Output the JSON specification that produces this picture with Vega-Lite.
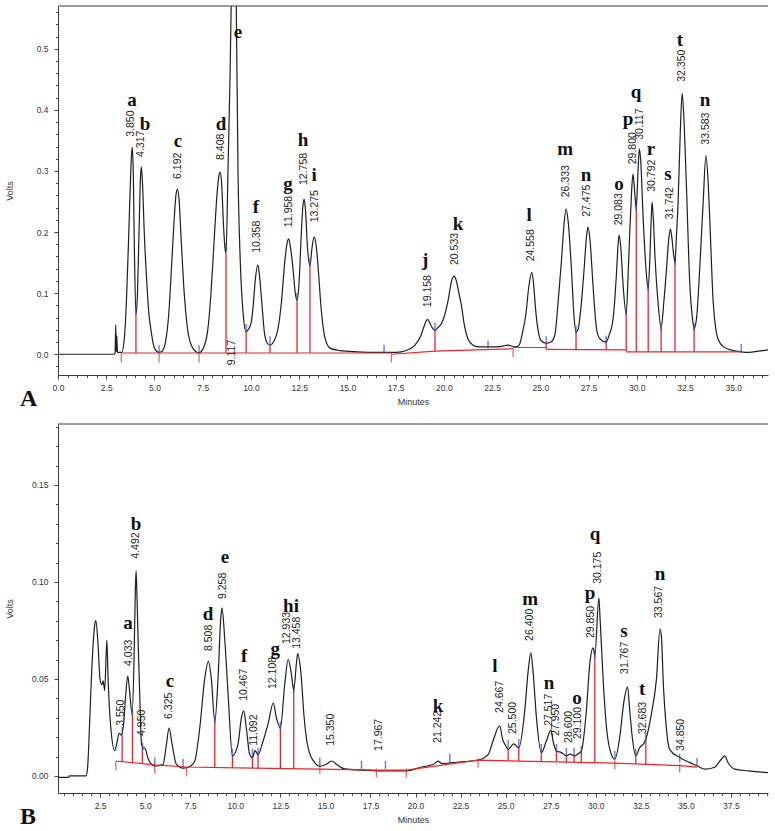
{
"$schema": "https://vega.github.io/schema/vega-lite/v6.json",
"background": "white",
"padding": {"left": 5, "top": 5, "right": 5, "bottom": 3},
"spacing": 12,
"config": {
  "view": {"stroke": null},
  "axis": {"grid": false, "labelFont": "Liberation Sans", "labelFontSize": 8.5, "labelColor": "#333", "titleFont": "Liberation Sans", "titleFontSize": 9, "titleFontWeight": "normal", "titleColor": "#333", "domainColor": "#3a3a3a", "tickColor": "#444", "tickWidth": 1, "tickSize": 4}
},
"datasets": {
  "curveA": [
    {"t":0,"v":0},{"t":2.9,"v":0},{"t":2.96,"v":0.002},{"t":2.99,"v":0.048},{"t":3.02,"v":0.004},{"t":3.05,"v":0.03},{"t":3.08,"v":0.003},{"t":3.3,"v":0.003},
    {"t":3.45,"v":0.03},{"t":3.55,"v":0.09},{"t":3.65,"v":0.18},{"t":3.73,"v":0.26},{"t":3.8,"v":0.32},{"t":3.85,"v":0.339},{"t":3.9,"v":0.3},{"t":3.96,"v":0.17},{"t":4.04,"v":0.066},
    {"t":4.12,"v":0.1},{"t":4.2,"v":0.2},{"t":4.27,"v":0.285},{"t":4.317,"v":0.307},{"t":4.38,"v":0.28},{"t":4.47,"v":0.2},{"t":4.58,"v":0.13},{"t":4.7,"v":0.07},{"t":4.84,"v":0.035},{"t":5.0,"v":0.01},{"t":5.24,"v":0.003},
    {"t":5.4,"v":0.005},{"t":5.6,"v":0.025},{"t":5.75,"v":0.07},{"t":5.88,"v":0.14},{"t":6.02,"v":0.22},{"t":6.12,"v":0.262},{"t":6.192,"v":0.27},{"t":6.27,"v":0.255},{"t":6.38,"v":0.19},{"t":6.52,"v":0.11},{"t":6.7,"v":0.045},{"t":6.95,"v":0.012},{"t":7.31,"v":0.002},
    {"t":7.6,"v":0.015},{"t":7.8,"v":0.05},{"t":7.95,"v":0.11},{"t":8.1,"v":0.19},{"t":8.25,"v":0.265},{"t":8.35,"v":0.294},{"t":8.408,"v":0.298},{"t":8.48,"v":0.28},{"t":8.58,"v":0.21},{"t":8.65,"v":0.175},{"t":8.71,"v":0.165},
    {"t":8.81,"v":0.3},{"t":8.92,"v":0.46},{"t":9.0,"v":0.62},{"t":9.117,"v":0.8},{"t":9.23,"v":0.6},{"t":9.33,"v":0.3},{"t":9.45,"v":0.15},{"t":9.6,"v":0.065},{"t":9.75,"v":0.036},
    {"t":9.85,"v":0.04},{"t":10.0,"v":0.05},{"t":10.12,"v":0.08},{"t":10.22,"v":0.12},{"t":10.358,"v":0.146},{"t":10.44,"v":0.13},{"t":10.55,"v":0.09},{"t":10.7,"v":0.035},{"t":10.85,"v":0.018},{"t":10.99,"v":0.015},
    {"t":11.2,"v":0.022},{"t":11.4,"v":0.041},{"t":11.58,"v":0.085},{"t":11.75,"v":0.15},{"t":11.88,"v":0.183},{"t":11.958,"v":0.189},{"t":12.05,"v":0.175},{"t":12.18,"v":0.14},{"t":12.3,"v":0.1},{"t":12.39,"v":0.088},
    {"t":12.5,"v":0.12},{"t":12.6,"v":0.19},{"t":12.7,"v":0.245},{"t":12.758,"v":0.254},{"t":12.83,"v":0.235},{"t":12.93,"v":0.175},{"t":13.06,"v":0.145},
    {"t":13.15,"v":0.17},{"t":13.275,"v":0.192},{"t":13.38,"v":0.178},{"t":13.5,"v":0.135},{"t":13.6,"v":0.09},{"t":13.72,"v":0.05},{"t":13.85,"v":0.025},{"t":14.1,"v":0.01},{"t":14.6,"v":0.006},{"t":15.5,"v":0.004},{"t":16.5,"v":0.003},{"t":17.3,"v":0.003},
    {"t":17.8,"v":0.004},{"t":18.2,"v":0.008},{"t":18.5,"v":0.015},{"t":18.8,"v":0.03},{"t":19.0,"v":0.048},{"t":19.158,"v":0.057},{"t":19.3,"v":0.049},{"t":19.45,"v":0.041},{"t":19.54,"v":0.039},
    {"t":19.7,"v":0.044},{"t":19.87,"v":0.05},{"t":20.05,"v":0.065},{"t":20.22,"v":0.088},{"t":20.4,"v":0.12},{"t":20.533,"v":0.128},{"t":20.65,"v":0.12},{"t":20.78,"v":0.1},{"t":20.91,"v":0.08},{"t":21.05,"v":0.05},{"t":21.25,"v":0.025},{"t":21.5,"v":0.015},{"t":21.8,"v":0.012},{"t":22.5,"v":0.012},{"t":23.0,"v":0.013},{"t":23.3,"v":0.015},{"t":23.7,"v":0.012},
    {"t":23.9,"v":0.015},{"t":24.1,"v":0.039},{"t":24.25,"v":0.065},{"t":24.4,"v":0.11},{"t":24.558,"v":0.134},{"t":24.65,"v":0.115},{"t":24.75,"v":0.075},{"t":24.88,"v":0.04},{"t":25.05,"v":0.022},{"t":25.3,"v":0.018},
    {"t":25.55,"v":0.02},{"t":25.75,"v":0.031},{"t":25.92,"v":0.085},{"t":26.09,"v":0.151},{"t":26.22,"v":0.21},{"t":26.333,"v":0.238},{"t":26.45,"v":0.215},{"t":26.61,"v":0.14},{"t":26.75,"v":0.06},{"t":26.85,"v":0.036},
    {"t":26.95,"v":0.04},{"t":27.13,"v":0.085},{"t":27.27,"v":0.14},{"t":27.4,"v":0.195},{"t":27.475,"v":0.208},{"t":27.58,"v":0.185},{"t":27.73,"v":0.113},{"t":27.88,"v":0.05},{"t":28.0,"v":0.03},{"t":28.2,"v":0.022},{"t":28.41,"v":0.02},
    {"t":28.55,"v":0.03},{"t":28.77,"v":0.058},{"t":28.94,"v":0.129},{"t":29.03,"v":0.18},{"t":29.083,"v":0.195},{"t":29.17,"v":0.175},{"t":29.29,"v":0.113},{"t":29.45,"v":0.066},
    {"t":29.55,"v":0.13},{"t":29.63,"v":0.195},{"t":29.72,"v":0.26},{"t":29.8,"v":0.295},{"t":29.88,"v":0.27},{"t":29.97,"v":0.238},
    {"t":30.05,"v":0.29},{"t":30.13,"v":0.336},{"t":30.2,"v":0.318},{"t":30.33,"v":0.222},{"t":30.5,"v":0.13},{"t":30.59,"v":0.107},
    {"t":30.68,"v":0.16},{"t":30.75,"v":0.225},{"t":30.792,"v":0.249},{"t":30.86,"v":0.22},{"t":30.95,"v":0.155},{"t":31.1,"v":0.085},{"t":31.26,"v":0.043},
    {"t":31.4,"v":0.085},{"t":31.54,"v":0.14},{"t":31.66,"v":0.19},{"t":31.742,"v":0.205},{"t":31.82,"v":0.19},{"t":31.9,"v":0.165},{"t":31.98,"v":0.15},
    {"t":32.05,"v":0.19},{"t":32.14,"v":0.249},{"t":32.25,"v":0.36},{"t":32.35,"v":0.427},{"t":32.45,"v":0.38},{"t":32.57,"v":0.277},{"t":32.75,"v":0.113},{"t":32.88,"v":0.06},{"t":32.97,"v":0.042},
    {"t":33.1,"v":0.06},{"t":33.26,"v":0.14},{"t":33.44,"v":0.249},{"t":33.583,"v":0.325},{"t":33.7,"v":0.28},{"t":33.78,"v":0.222},{"t":33.96,"v":0.085},{"t":34.1,"v":0.04},{"t":34.21,"v":0.025},{"t":34.5,"v":0.012},{"t":35.0,"v":0.006},{"t":35.4,"v":0.004},{"t":35.8,"v":0.003},{"t":36.3,"v":0.005},{"t":36.8,"v":0.007}
  ],
  "baseA": [
    {"seg":1,"t":3.28,"v":0.002},{"seg":1,"t":17.28,"v":0.002},
    {"seg":2,"t":17.28,"v":0.0},{"seg":2,"t":19.54,"v":0.005},{"seg":2,"t":23.59,"v":0.009},
    {"seg":3,"t":23.59,"v":0.011},{"seg":3,"t":25.3,"v":0.011},
    {"seg":4,"t":25.3,"v":0.008},{"seg":4,"t":29.45,"v":0.007},
    {"seg":5,"t":29.45,"v":0.004},{"seg":5,"t":35.41,"v":0.004}
  ],
  "dropA": [
    {"t":4.04,"v":0.002,"v2":0.066},{"t":8.71,"v":0.002,"v2":0.165},{"t":9.75,"v":0.002,"v2":0.036},{"t":10.99,"v":0.002,"v2":0.015},
    {"t":12.39,"v":0.002,"v2":0.088},{"t":13.06,"v":0.002,"v2":0.145},{"t":19.54,"v":0.005,"v2":0.039},{"t":25.3,"v":0.008,"v2":0.018},
    {"t":26.85,"v":0.008,"v2":0.036},{"t":28.41,"v":0.007,"v2":0.02},{"t":29.45,"v":0.005,"v2":0.066},{"t":29.97,"v":0.004,"v2":0.238},
    {"t":30.59,"v":0.004,"v2":0.107},{"t":31.26,"v":0.004,"v2":0.043},{"t":31.98,"v":0.004,"v2":0.15},{"t":32.97,"v":0.004,"v2":0.042}
  ],
  "redTickA": [
    {"t":3.28,"v":-0.006},{"t":5.24,"v":-0.006},{"t":7.31,"v":-0.006},{"t":17.28,"v":-0.006},{"t":23.59,"v":0.003}
  ],
  "blueTickA": [
    {"t":4.04,"v":0.072},{"t":5.24,"v":0.008},{"t":7.31,"v":0.008},{"t":8.71,"v":0.175},{"t":9.75,"v":0.043},{"t":10.99,"v":0.023},
    {"t":12.39,"v":0.094},{"t":13.06,"v":0.15},{"t":16.9,"v":0.009},{"t":19.54,"v":0.045},{"t":22.29,"v":0.016},{"t":25.3,"v":0.023},
    {"t":26.85,"v":0.04},{"t":28.41,"v":0.024},{"t":29.45,"v":0.07},{"t":29.97,"v":0.242},{"t":30.59,"v":0.11},{"t":31.26,"v":0.046},
    {"t":31.98,"v":0.153},{"t":32.97,"v":0.045},{"t":35.41,"v":0.01}
  ],
  "numA": [
    {"t":3.78,"v":0.356,"label":"3.850"},{"t":4.3,"v":0.323,"label":"4.317"},{"t":6.22,"v":0.287,"label":"6.192"},{"t":8.45,"v":0.318,"label":"8.408"},
    {"t":9.02,"v":-0.018,"label":"9.117"},{"t":10.32,"v":0.166,"label":"10.358"},{"t":11.98,"v":0.208,"label":"11.958"},{"t":12.75,"v":0.277,"label":"12.758"},
    {"t":13.32,"v":0.216,"label":"13.275"},{"t":19.18,"v":0.077,"label":"19.158"},{"t":20.58,"v":0.146,"label":"20.533"},{"t":24.52,"v":0.152,"label":"24.558"},
    {"t":26.34,"v":0.257,"label":"26.333"},{"t":27.42,"v":0.225,"label":"27.475"},{"t":29.08,"v":0.211,"label":"29.083"},{"t":29.81,"v":0.311,"label":"29.800"},
    {"t":30.17,"v":0.351,"label":"30.117"},{"t":30.79,"v":0.266,"label":"30.792"},{"t":31.73,"v":0.221,"label":"31.742"},{"t":32.35,"v":0.446,"label":"32.350"},
    {"t":33.59,"v":0.343,"label":"33.583"}
  ],
  "letA": [
    {"t":3.84,"v":0.416,"label":"a"},{"t":4.51,"v":0.377,"label":"b"},{"t":6.22,"v":0.349,"label":"c"},{"t":8.45,"v":0.377,"label":"d"},
    {"t":9.33,"v":0.528,"label":"e"},{"t":10.26,"v":0.241,"label":"f"},{"t":11.92,"v":0.279,"label":"g"},{"t":12.7,"v":0.351,"label":"h"},
    {"t":13.27,"v":0.293,"label":"i"},{"t":19.03,"v":0.154,"label":"j"},{"t":20.74,"v":0.213,"label":"k"},{"t":24.42,"v":0.228,"label":"l"},
    {"t":26.28,"v":0.336,"label":"m"},{"t":27.37,"v":0.293,"label":"n"},{"t":29.08,"v":0.279,"label":"o"},{"t":29.55,"v":0.385,"label":"p"},
    {"t":29.96,"v":0.429,"label":"q"},{"t":30.74,"v":0.336,"label":"r"},{"t":31.62,"v":0.295,"label":"s"},{"t":32.24,"v":0.515,"label":"t"},
    {"t":33.54,"v":0.416,"label":"n"}
  ],
  "curveB": [
    {"t":0.16,"v":-0.0007},{"t":0.75,"v":-0.0007},{"t":0.8,"v":0.0},{"t":1.72,"v":0.0},{"t":1.8,"v":0.004},{"t":1.87,"v":0.0165},{"t":2.01,"v":0.05},{"t":2.2,"v":0.078},{"t":2.26,"v":0.08},{"t":2.38,"v":0.068},
    {"t":2.49,"v":0.05},{"t":2.6,"v":0.047},{"t":2.67,"v":0.049},{"t":2.75,"v":0.044},{"t":2.87,"v":0.07},{"t":2.94,"v":0.05},{"t":3.09,"v":0.025},{"t":3.31,"v":0.013},{"t":3.45,"v":0.018},{"t":3.55,"v":0.022},
    {"t":3.68,"v":0.021},{"t":3.8,"v":0.027},{"t":3.92,"v":0.042},{"t":4.033,"v":0.0515},{"t":4.12,"v":0.045},{"t":4.27,"v":0.032},{"t":4.38,"v":0.06},{"t":4.45,"v":0.095},{"t":4.492,"v":0.1057},{"t":4.55,"v":0.09},
    {"t":4.62,"v":0.065},{"t":4.7,"v":0.04},{"t":4.8,"v":0.016},{"t":4.9,"v":0.0145},{"t":4.97,"v":0.0145},{"t":5.16,"v":0.009},{"t":5.53,"v":0.005},{"t":5.99,"v":0.006},{"t":6.18,"v":0.0165},{"t":6.325,"v":0.0247},
    {"t":6.49,"v":0.0165},{"t":6.73,"v":0.006},{"t":7.1,"v":0.004},{"t":7.5,"v":0.005},{"t":7.75,"v":0.0077},{"t":8.03,"v":0.025},{"t":8.3,"v":0.05},{"t":8.508,"v":0.059},{"t":8.67,"v":0.05},{"t":8.86,"v":0.028},
    {"t":9.04,"v":0.05},{"t":9.19,"v":0.081},{"t":9.258,"v":0.0866},{"t":9.41,"v":0.071},{"t":9.6,"v":0.042},{"t":9.84,"v":0.0103},{"t":10.15,"v":0.0165},{"t":10.34,"v":0.03},{"t":10.467,"v":0.0335},{"t":10.61,"v":0.0247},
    {"t":10.8,"v":0.011},{"t":10.95,"v":0.0093},{"t":11.092,"v":0.013},{"t":11.26,"v":0.011},{"t":11.54,"v":0.018},{"t":11.82,"v":0.027},{"t":12.108,"v":0.0376},{"t":12.28,"v":0.03},{"t":12.5,"v":0.0247},{"t":12.74,"v":0.047},
    {"t":12.933,"v":0.06},{"t":13.11,"v":0.0526},{"t":13.24,"v":0.044},{"t":13.39,"v":0.058},{"t":13.458,"v":0.063},{"t":13.63,"v":0.054},{"t":13.82,"v":0.03},{"t":14.04,"v":0.0144},{"t":14.41,"v":0.0067},{"t":14.69,"v":0.005},
    {"t":15.05,"v":0.006},{"t":15.35,"v":0.0077},{"t":15.61,"v":0.006},{"t":16.07,"v":0.0036},{"t":17.0,"v":0.003},{"t":18.1,"v":0.0026},{"t":19.5,"v":0.0026},{"t":20.33,"v":0.0046},{"t":21.0,"v":0.006},{"t":21.242,"v":0.0076},
    {"t":21.5,"v":0.0063},{"t":21.9,"v":0.0067},{"t":22.73,"v":0.0074},{"t":23.47,"v":0.0082},{"t":24.03,"v":0.011},{"t":24.3,"v":0.018},{"t":24.667,"v":0.0258},{"t":24.86,"v":0.018},{"t":24.95,"v":0.0165},{"t":25.14,"v":0.0137},
    {"t":25.45,"v":0.0165},{"t":25.73,"v":0.0144},{"t":26.06,"v":0.0335},{"t":26.25,"v":0.054},{"t":26.4,"v":0.0634},{"t":26.52,"v":0.054},{"t":26.71,"v":0.03},{"t":26.98,"v":0.012},{"t":27.26,"v":0.018},{"t":27.517,"v":0.0236},
    {"t":27.63,"v":0.018},{"t":27.82,"v":0.0129},{"t":28.1,"v":0.012},{"t":28.37,"v":0.0103},{"t":28.6,"v":0.0112},{"t":28.8,"v":0.0103},{"t":29.1,"v":0.012},{"t":29.2,"v":0.0129},{"t":29.48,"v":0.0335},{"t":29.67,"v":0.0577},
    {"t":29.85,"v":0.066},{"t":29.95,"v":0.062},{"t":30.175,"v":0.0918},{"t":30.24,"v":0.0814},{"t":30.41,"v":0.05},{"t":30.6,"v":0.0247},{"t":30.87,"v":0.011},{"t":31.06,"v":0.0086},{"t":31.33,"v":0.0198},{"t":31.57,"v":0.0387},
    {"t":31.767,"v":0.0459},{"t":31.89,"v":0.0335},{"t":32.03,"v":0.0198},{"t":32.22,"v":0.0103},{"t":32.44,"v":0.0146},{"t":32.683,"v":0.017},{"t":32.78,"v":0.019},{"t":33.09,"v":0.032},{"t":33.37,"v":0.05},{"t":33.567,"v":0.0757},
    {"t":33.65,"v":0.0713},{"t":33.74,"v":0.05},{"t":33.92,"v":0.0247},{"t":34.1,"v":0.0137},{"t":34.66,"v":0.0095},{"t":35.2,"v":0.007},{"t":35.68,"v":0.005},{"t":36.05,"v":0.0035},{"t":36.6,"v":0.0045},{"t":36.97,"v":0.0086},
    {"t":37.16,"v":0.0103},{"t":37.34,"v":0.0069},{"t":37.71,"v":0.0035},{"t":38.45,"v":0.0026},{"t":39.56,"v":0.0017}
  ],
  "baseB": [
    {"seg":1,"t":3.37,"v":0.0077},{"seg":1,"t":5.53,"v":0.0057},{"seg":1,"t":7.29,"v":0.0046},{"seg":1,"t":10.95,"v":0.004},{"seg":1,"t":14.69,"v":0.0035},
    {"seg":1,"t":17.83,"v":0.003},{"seg":1,"t":19.49,"v":0.003},{"seg":1,"t":23.47,"v":0.0081},{"seg":1,"t":31.06,"v":0.0066},{"seg":1,"t":34.66,"v":0.0053},{"seg":1,"t":35.62,"v":0.0045}
  ],
  "dropB": [
    {"t":3.72,"v":0.0073,"v2":0.021},{"t":4.29,"v":0.0068,"v2":0.032},{"t":4.84,"v":0.0062,"v2":0.015},{"t":8.86,"v":0.0043,"v2":0.028},
    {"t":9.84,"v":0.0042,"v2":0.0103},{"t":10.95,"v":0.004,"v2":0.0093},{"t":11.26,"v":0.004,"v2":0.011},{"t":12.5,"v":0.0038,"v2":0.0247},
    {"t":13.24,"v":0.0037,"v2":0.044},{"t":25.14,"v":0.0078,"v2":0.0137},{"t":25.73,"v":0.0077,"v2":0.0144},{"t":26.98,"v":0.0075,"v2":0.012},
    {"t":27.82,"v":0.0074,"v2":0.0129},{"t":28.37,"v":0.0072,"v2":0.0103},{"t":28.8,"v":0.0071,"v2":0.0103},{"t":29.2,"v":0.0071,"v2":0.0129},
    {"t":29.95,"v":0.0068,"v2":0.062},{"t":32.22,"v":0.0062,"v2":0.0103},{"t":32.78,"v":0.0061,"v2":0.019}
  ],
  "redTickB": [
    {"t":3.37,"v":0.0052},{"t":5.53,"v":0.0035},{"t":7.29,"v":0.0021},{"t":14.69,"v":0.0035},{"t":17.83,"v":0.0015},
    {"t":19.49,"v":0.0015},{"t":23.47,"v":0.0067},{"t":31.06,"v":0.0057},{"t":34.66,"v":0.004}
  ],
  "blueTickB": [
    {"t":3.72,"v":0.023},{"t":4.29,"v":0.033},{"t":4.86,"v":0.015},{"t":5.53,"v":0.0075},{"t":7.1,"v":0.0067},{"t":8.86,"v":0.029},
    {"t":9.84,"v":0.012},{"t":10.95,"v":0.012},{"t":11.26,"v":0.0125},{"t":12.5,"v":0.026},{"t":13.24,"v":0.045},{"t":14.69,"v":0.0075},
    {"t":17.0,"v":0.0057},{"t":18.33,"v":0.0057},{"t":21.9,"v":0.0093},{"t":25.14,"v":0.0165},{"t":25.73,"v":0.017},{"t":26.98,"v":0.0144},
    {"t":27.82,"v":0.0144},{"t":28.37,"v":0.0124},{"t":28.8,"v":0.0124},{"t":29.2,"v":0.0134},{"t":29.95,"v":0.063},{"t":31.06,"v":0.0108},
    {"t":32.22,"v":0.012},{"t":32.78,"v":0.02},{"t":34.66,"v":0.0093},{"t":35.62,"v":0.0072}
  ],
  "numB": [
    {"t":3.66,"v":0.0258,"label":"3.550"},{"t":4.1,"v":0.0567,"label":"4.033"},{"t":4.49,"v":0.112,"label":"4.492"},{"t":4.83,"v":0.0206,"label":"4.950"},
    {"t":6.32,"v":0.0294,"label":"6.325"},{"t":8.54,"v":0.0644,"label":"8.508"},{"t":9.32,"v":0.0912,"label":"9.258"},{"t":10.49,"v":0.0387,"label":"10.467"},
    {"t":11.04,"v":0.0155,"label":"11.092"},{"t":12.1,"v":0.0448,"label":"12.108"},{"t":12.87,"v":0.068,"label":"12.933"},{"t":13.43,"v":0.0655,"label":"13.458"},
    {"t":15.31,"v":0.0155,"label":"15.350"},{"t":17.98,"v":0.0129,"label":"17.967"},{"t":21.25,"v":0.017,"label":"21.242"},{"t":24.69,"v":0.0325,"label":"24.667"},
    {"t":25.41,"v":0.0216,"label":"25.500"},{"t":26.36,"v":0.0696,"label":"26.400"},{"t":27.41,"v":0.0258,"label":"27.517"},{"t":27.8,"v":0.0206,"label":"27.950"},
    {"t":28.52,"v":0.017,"label":"28.600"},{"t":29.02,"v":0.019,"label":"29.100"},{"t":29.74,"v":0.0711,"label":"29.850"},{"t":30.13,"v":0.099,"label":"30.175"},
    {"t":31.63,"v":0.0526,"label":"31.767"},{"t":32.63,"v":0.0216,"label":"32.683"},{"t":33.52,"v":0.0814,"label":"33.567"},{"t":34.74,"v":0.0129,"label":"34.850"}
  ],
  "letB": [
    {"t":4.05,"v":0.0789,"label":"a"},{"t":4.49,"v":0.13,"label":"b"},{"t":6.38,"v":0.049,"label":"c"},{"t":8.49,"v":0.0835,"label":"d"},
    {"t":9.43,"v":0.113,"label":"e"},{"t":10.49,"v":0.0619,"label":"f"},{"t":12.21,"v":0.0655,"label":"g"},{"t":13.09,"v":0.0876,"label":"hi"},
    {"t":21.25,"v":0.0361,"label":"k"},{"t":24.41,"v":0.0567,"label":"l"},{"t":26.36,"v":0.0912,"label":"m"},{"t":27.41,"v":0.0479,"label":"n"},
    {"t":28.96,"v":0.0402,"label":"o"},{"t":29.69,"v":0.0943,"label":"p"},{"t":29.96,"v":0.1247,"label":"q"},{"t":31.57,"v":0.0747,"label":"s"},
    {"t":32.57,"v":0.0448,"label":"t"},{"t":33.57,"v":0.1041,"label":"n"}
  ]
},
"vconcat": [
  {
    "width": 710, "height": 369,
    "title": {"text": "A", "orient": "bottom", "anchor": "start", "frame": "group", "font": "Liberation Serif", "fontSize": 24, "fontWeight": "bold", "color": "#111", "dx": -38, "offset": -20},
    "resolve": {"axis": {"x": "independent", "y": "independent"}},
    "layer": [
      {"data": {"name": "curveA"}, "mark": {"type": "line", "color": "#1e1e1e", "strokeWidth": 1.2, "interpolate": "monotone", "clip": true},
       "encoding": {
         "x": {"field": "t", "type": "quantitative", "scale": {"domain": [0, 36.8], "nice": false, "zero": false},
               "axis": {"orient": "bottom", "title": "Minutes", "values": [0,2.5,5,7.5,10,12.5,15,17.5,20,22.5,25,27.5,30,32.5,35], "format": ".1f",
                        "labelOverlap": false, "labelFlush": false, "labelPadding": 4, "titlePadding": 6}},
         "y": {"field": "v", "type": "quantitative", "scale": {"domain": [-0.034, 0.57], "nice": false, "zero": false},
               "axis": {"orient": "left", "title": "Volts", "values": [0,0.1,0.2,0.3,0.4,0.5], "format": ".1f",
                        "labelOverlap": false, "labelFlush": false, "labelPadding": 6, "titlePadding": 22}}
       }},
      {"data": {"name": "baseA"}, "mark": {"type": "line", "color": "#e8262b", "strokeWidth": 1.2},
       "encoding": {"x": {"field": "t", "type": "quantitative", "axis": null}, "y": {"field": "v", "type": "quantitative", "axis": null}, "detail": {"field": "seg", "type": "nominal"}}},
      {"data": {"name": "dropA"}, "mark": {"type": "rule", "color": "#e8262b", "strokeWidth": 1.3},
       "encoding": {"x": {"field": "t", "type": "quantitative", "axis": null}, "y": {"field": "v", "type": "quantitative", "axis": null}, "y2": {"field": "v2"}}},
      {"data": {"name": "redTickA"}, "mark": {"type": "tick", "orient": "vertical", "color": "#e8262b", "size": 9, "thickness": 1.3},
       "encoding": {"x": {"field": "t", "type": "quantitative", "axis": null}, "y": {"field": "v", "type": "quantitative", "axis": null}}},
      {"data": {"name": "blueTickA"}, "mark": {"type": "tick", "orient": "vertical", "color": "#2b3bd6", "size": 8, "thickness": 1.4},
       "encoding": {
         "x": {"field": "t", "type": "quantitative",
               "axis": {"orient": "bottom", "title": null, "labels": false, "domain": false, "tickSize": 2.5,
                        "values": [0.5,1,1.5,2,3,3.5,4,4.5,5.5,6,6.5,7,8,8.5,9,9.5,10.5,11,11.5,12,13,13.5,14,14.5,15.5,16,16.5,17,18,18.5,19,19.5,20.5,21,21.5,22,23,23.5,24,24.5,25.5,26,26.5,27,28,28.5,29,29.5,30.5,31,31.5,32,33,33.5,34,34.5,35.5,36,36.5]}},
         "y": {"field": "v", "type": "quantitative",
               "axis": {"orient": "left", "title": null, "labels": false, "domain": false, "tickSize": 2.5,
                        "values": [-0.02,0.02,0.04,0.06,0.08,0.12,0.14,0.16,0.18,0.22,0.24,0.26,0.28,0.32,0.34,0.36,0.38,0.42,0.44,0.46,0.48,0.52,0.54,0.56]}}
       }},
      {"data": {"name": "numA"}, "mark": {"type": "text", "angle": 270, "align": "left", "baseline": "middle", "font": "Liberation Sans", "fontSize": 10.5, "color": "#222"},
       "encoding": {"x": {"field": "t", "type": "quantitative", "axis": null}, "y": {"field": "v", "type": "quantitative", "axis": null}, "text": {"field": "label"}}},
      {"data": {"name": "letA"}, "mark": {"type": "text", "font": "Liberation Serif", "fontWeight": "bold", "fontSize": 19, "color": "#111", "baseline": "middle"},
       "encoding": {"x": {"field": "t", "type": "quantitative", "axis": null}, "y": {"field": "v", "type": "quantitative", "axis": null}, "text": {"field": "label"}}},
      {"data": {"values": [{}]}, "mark": {"type": "rule", "color": "#3a3a3a", "strokeWidth": 1},
       "encoding": {"y": {"datum": 0.57, "axis": null}}}
    ]
  },
  {
    "width": 710, "height": 369,
    "title": {"text": "B", "orient": "bottom", "anchor": "start", "frame": "group", "font": "Liberation Serif", "fontSize": 24, "fontWeight": "bold", "color": "#111", "dx": -38, "offset": -20},
    "resolve": {"axis": {"x": "independent", "y": "independent"}},
    "layer": [
      {"data": {"name": "curveB"}, "mark": {"type": "line", "color": "#1e1e1e", "strokeWidth": 1.2, "interpolate": "monotone", "clip": true},
       "encoding": {
         "x": {"field": "t", "type": "quantitative", "scale": {"domain": [0.16, 39.56], "nice": false, "zero": false},
               "axis": {"orient": "bottom", "title": "Minutes", "values": [2.5,5,7.5,10,12.5,15,17.5,20,22.5,25,27.5,30,32.5,35,37.5], "format": ".1f",
                        "labelOverlap": false, "labelFlush": false, "labelPadding": 4, "titlePadding": 6}},
         "y": {"field": "v", "type": "quantitative", "scale": {"domain": [-0.0088, 0.1814], "nice": false, "zero": false},
               "axis": {"orient": "left", "title": "Volts", "values": [0,0.05,0.1,0.15], "format": ".2f",
                        "labelOverlap": false, "labelFlush": false, "labelPadding": 6, "titlePadding": 17}}
       }},
      {"data": {"name": "baseB"}, "mark": {"type": "line", "color": "#e8262b", "strokeWidth": 1.2},
       "encoding": {"x": {"field": "t", "type": "quantitative", "axis": null}, "y": {"field": "v", "type": "quantitative", "axis": null}, "detail": {"field": "seg", "type": "nominal"}}},
      {"data": {"name": "dropB"}, "mark": {"type": "rule", "color": "#e8262b", "strokeWidth": 1.3},
       "encoding": {"x": {"field": "t", "type": "quantitative", "axis": null}, "y": {"field": "v", "type": "quantitative", "axis": null}, "y2": {"field": "v2"}}},
      {"data": {"name": "redTickB"}, "mark": {"type": "tick", "orient": "vertical", "color": "#e8262b", "size": 9, "thickness": 1.3},
       "encoding": {"x": {"field": "t", "type": "quantitative", "axis": null}, "y": {"field": "v", "type": "quantitative", "axis": null}}},
      {"data": {"name": "blueTickB"}, "mark": {"type": "tick", "orient": "vertical", "color": "#2b3bd6", "size": 8, "thickness": 1.4},
       "encoding": {
         "x": {"field": "t", "type": "quantitative",
               "axis": {"orient": "bottom", "title": null, "labels": false, "domain": false, "tickSize": 2.5,
                        "values": [0.5,1,1.5,2,3,3.5,4,4.5,5.5,6,6.5,7,8,8.5,9,9.5,10.5,11,11.5,12,13,13.5,14,14.5,15.5,16,16.5,17,18,18.5,19,19.5,20.5,21,21.5,22,23,23.5,24,24.5,25.5,26,26.5,27,28,28.5,29,29.5,30.5,31,31.5,32,33,33.5,34,34.5,35.5,36,36.5,37,38,38.5,39,39.5]}},
         "y": {"field": "v", "type": "quantitative",
               "axis": {"orient": "left", "title": null, "labels": false, "domain": false, "tickSize": 2.5,
                        "values": [0.01,0.02,0.03,0.04,0.06,0.07,0.08,0.09,0.11,0.12,0.13,0.14,0.16,0.17,0.18]}}
       }},
      {"data": {"name": "numB"}, "mark": {"type": "text", "angle": 270, "align": "left", "baseline": "middle", "font": "Liberation Sans", "fontSize": 10.5, "color": "#222"},
       "encoding": {"x": {"field": "t", "type": "quantitative", "axis": null}, "y": {"field": "v", "type": "quantitative", "axis": null}, "text": {"field": "label"}}},
      {"data": {"name": "letB"}, "mark": {"type": "text", "font": "Liberation Serif", "fontWeight": "bold", "fontSize": 19, "color": "#111", "baseline": "middle"},
       "encoding": {"x": {"field": "t", "type": "quantitative", "axis": null}, "y": {"field": "v", "type": "quantitative", "axis": null}, "text": {"field": "label"}}},
      {"data": {"values": [{}]}, "mark": {"type": "rule", "color": "#3a3a3a", "strokeWidth": 1},
       "encoding": {"y": {"datum": 0.1814, "axis": null}}}
    ]
  }
]
}
